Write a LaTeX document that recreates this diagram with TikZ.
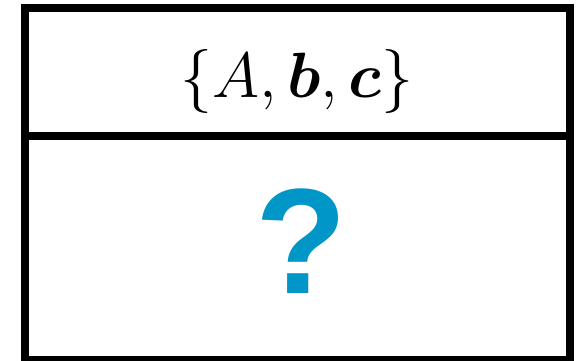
\RequirePackage{fix-cm}
\documentclass[tikz,border=0pt]{standalone}
\usepackage{amsmath,amssymb,bm}
\usepackage{fontspec}
\newfontfamily\qfont{Liberation Sans}
\definecolor{qblue}{RGB}{0,150,200}
\tikzset{
  every picture/.style={line join=miter, line cap=rect},
  cell/.style={line width=8pt},
  setlabel/.style={font=\fontsize{64}{70}\selectfont, inner sep=0pt},
  qmark/.style={text=qblue, font=\qfont\bfseries\fontsize{150}{160}\selectfont, inner sep=0pt},
}

\begin{document}
\begin{tikzpicture}[x=1pt,y=-1pt]
\useasboundingbox(0,0) rectangle (582,361);
\clip(0,0) rectangle (582,361);
\coordinate (divL) at (25,136);
\coordinate (divR) at (570,136);
\draw[cell](25,8) rectangle (570,360);
\draw[cell](divL)--(divR);
\node[setlabel,anchor=base] (set) at (297,98) {$\{A, \bm{b}, \bm{c}\}$};
\node[qmark,anchor=base] (ask) at (301,293) {?};
\end{tikzpicture}
\end{document}
